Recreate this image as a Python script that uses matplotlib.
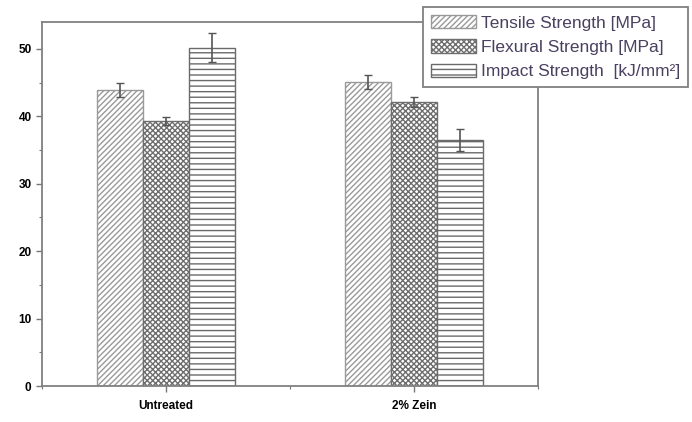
import matplotlib
matplotlib.use("Agg")
import matplotlib.pyplot as plt
import numpy as np
from matplotlib.ticker import MultipleLocator

plt.rcParams["font.family"] = ["Liberation Sans", "DejaVu Sans"]

categories = ["Untreated", "2% Zein"]
series = ["Tensile Strength [MPa]", "Flexural Strength [MPa]", "Impact Strength  [kJ/mm²]"]
values = {
    "tensile": [43.9, 45.1],
    "flexural": [39.3, 42.1],
    "impact": [50.2, 36.5],
}
errors = {
    "tensile": [1.0, 1.1],
    "flexural": [0.6, 0.7],
    "impact": [2.1, 1.6],
}
hatches = ["//////", "xxxxxx", "---"]
edgecols = ["#9a9a9a", "#6e6e6e", "#6a6a6a"]

fig = plt.figure(figsize=(6.92, 4.22), dpi=100)
ax = fig.add_axes([0.0607, 0.0853, 0.7168, 0.8626])

x = np.arange(1, len(categories) + 1)
w = 0.186
keys = ["tensile", "flexural", "impact"]
handles = []
for i, k in enumerate(keys):
    b = ax.bar(x + (i - 1) * w, values[k], w, facecolor="white",
               edgecolor=edgecols[i], hatch=hatches[i], linewidth=1.0,
               label=series[i], zorder=2)
    ax.errorbar(x + (i - 1) * w, values[k], yerr=errors[k], fmt="none",
                ecolor="#555555", elinewidth=1.2, capsize=3, capthick=1.0, zorder=3)
    handles.append(b)

ax.set_xlim(0.5, 2.5)
ax.set_ylim(0, 54)
ax.set_xticks(x)
ax.set_xticklabels(categories, fontsize=8.5, fontweight="bold")
ax.xaxis.set_minor_locator(MultipleLocator(0.5))
ax.yaxis.set_major_locator(MultipleLocator(10))
ax.yaxis.set_minor_locator(MultipleLocator(5))
ax.tick_params(axis="y", labelsize=8.5, width=1.0, length=4, color="#777777")
ax.tick_params(axis="x", width=1.0, length=4, color="#777777", pad=6)
ax.tick_params(which="minor", length=2, width=0.8, color="#777777")
for lab in ax.get_yticklabels():
    lab.set_fontweight("bold")
for s in ax.spines.values():
    s.set_color("#808080")
    s.set_linewidth(1.3)

leg = fig.legend(handles=handles, labels=series, loc="upper right",
                 bbox_to_anchor=(0.994, 0.983), bbox_transform=fig.transFigure,
                 fontsize=12.5, fancybox=False, framealpha=1, edgecolor="#808080",
                 handlelength=2.6, handleheight=0.8, handletextpad=0.25,
                 labelspacing=0.5, borderpad=0.45, borderaxespad=0)
for t in leg.get_texts():
    t.set_color("#4a4060")
leg.get_frame().set_linewidth(1.3)

fig.savefig("out.png", dpi=100)
